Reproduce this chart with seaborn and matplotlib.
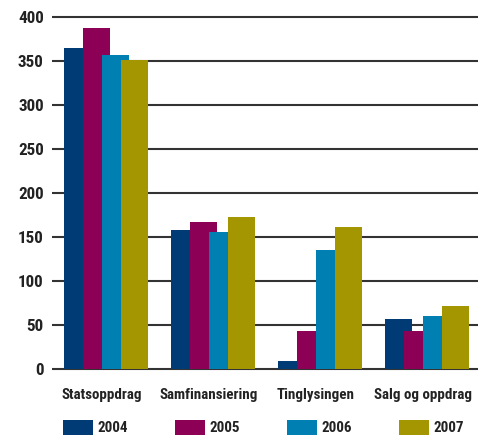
import matplotlib
matplotlib.use('Agg')
import matplotlib.pyplot as plt
from matplotlib import font_manager
import seaborn as sns
import pandas as pd

categories = ['Statsoppdrag', 'Samfinansiering', 'Tinglysingen', 'Salg og oppdrag']
years = ['2004', '2005', '2006', '2007']
v2004 = [365, 158, 9, 57]
v2005 = [387, 167, 43, 43]
v2006 = [357, 156, 135, 60]
v2007 = [351, 173, 161, 72]
colors = ['#003B76', '#8C0056', '#0080B2', '#A39600']

df = pd.DataFrame({
    'kategori': categories * 4,
    'år': [y for y in years for _ in categories],
    'verdi': v2004 + v2005 + v2006 + v2007,
})

sns.set_style('white')

# the original uses a narrow bold face; take the narrowest one installed
available = {f.name for f in font_manager.fontManager.ttflist}
for font, fs in [('Liberation Sans Narrow', 11), ('Roboto Condensed', 10.8),
                 ('DejaVu Sans Condensed', 9.5), ('DejaVu Sans', 9)]:
    if font in available:
        break
plt.rcParams['font.family'] = [font, 'DejaVu Sans']
plt.rcParams['font.weight'] = 'heavy'

fig = plt.figure(figsize=(4.78, 4.36), dpi=100)
ax = fig.add_axes([52 / 478, (436 - 371.2) / 436, 426 / 478, 356.4 / 436])

sns.barplot(data=df, x='kategori', y='verdi', hue='år', palette=colors,
            width=0.71, saturation=1, ax=ax)

# bars in the original overlap each other
for p in ax.patches:
    p.set_width(0.252)
    p.set_linewidth(0)

ax.set_xlim(-0.467, 3.514)
ax.set_ylim(-2.5, 402.5)
ax.set_yticks(range(0, 401, 50))
ax.yaxis.grid(True, color='#333333', lw=1.5)
ax.set_axisbelow(True)
for s in ax.spines.values():
    s.set_visible(False)
ax.set_xlabel('')
ax.set_ylabel('')
ax.tick_params(axis='y', length=0, pad=6, labelsize=fs + 1.5, labelcolor='#222222')
ax.tick_params(axis='x', length=0, pad=12, labelsize=fs, labelcolor='#222222')

# legend columns are ~112 px apart, handles ~30 px wide
fs_px = fs * 100 / 72
r = fig.canvas.get_renderer()
t = fig.text(0, 0, '2004', fontsize=fs)
lw = t.get_window_extent(r).width
t.remove()

handles, labels = ax.get_legend_handles_labels()
leg = ax.legend(handles, labels, loc='upper left', bbox_to_anchor=(63 / 478, 1 - 420 / 436),
                bbox_transform=fig.transFigure, ncol=4, frameon=False,
                handlelength=30 / fs_px, handleheight=17 / fs_px, handletextpad=5 / fs_px,
                columnspacing=(112 - 35 - lw) / fs_px, borderpad=0, borderaxespad=0,
                fontsize=fs)
for txt in leg.get_texts():
    txt.set_color('#222222')

fig.savefig('out.png', dpi=100)
